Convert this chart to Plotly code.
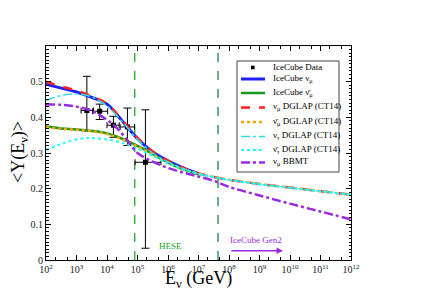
import math
import plotly.graph_objects as go

# ---------------- data ----------------
# log10(E/GeV) grids
logE_ic = [2.0, 2.5, 3.0, 3.5, 4.0, 4.5, 5.0, 5.5, 6.0, 6.5, 7.0]
logE_dg = [2.0, 2.5, 3.0, 3.5, 4.0, 4.5, 5.0, 5.5, 6.0, 6.5, 7.0, 7.5, 8.0, 8.5, 9.0, 10.0, 11.0, 12.0]

ic_numu = [0.493, 0.482, 0.471, 0.456, 0.437, 0.390, 0.340, 0.303, 0.278, 0.258, 0.242]
ic_numubar = [0.374, 0.369, 0.366, 0.362, 0.355, 0.340, 0.320, 0.297, 0.273, 0.254, 0.240]

dg_numu = [0.500, 0.487, 0.475, 0.459, 0.438, 0.392, 0.342, 0.304, 0.278, 0.258, 0.243,
           0.233, 0.225, 0.219, 0.213, 0.203, 0.193, 0.183]
dg_numubar = [0.372, 0.368, 0.365, 0.361, 0.353, 0.338, 0.318, 0.295, 0.272, 0.255, 0.242,
              0.233, 0.225, 0.219, 0.213, 0.203, 0.193, 0.183]
logE_nutau = [2.0, 2.4, 2.8, 3.2, 3.5, 4.0, 4.5, 5.0, 5.5, 6.0, 6.5, 7.0, 7.5, 8.0, 8.5, 9.0, 10.0, 11.0, 12.0]
dg_nutau = [0.447, 0.459, 0.465, 0.464, 0.457, 0.432, 0.388, 0.338, 0.300, 0.275, 0.256, 0.242,
            0.233, 0.225, 0.219, 0.213, 0.203, 0.193, 0.184]
dg_nutaubar = [0.309, 0.322, 0.334, 0.341, 0.342, 0.338, 0.328, 0.312, 0.292, 0.271, 0.254, 0.241,
               0.232, 0.224, 0.218, 0.212, 0.202, 0.192, 0.183]
logE_bbmt = [2.0, 2.5, 3.0, 3.5, 4.0, 4.3, 4.6, 5.0, 5.5, 6.0, 6.5, 7.0, 7.5, 8.0, 9.0, 10.0, 11.0, 12.0]
bbmt_numu = [0.436, 0.435, 0.430, 0.418, 0.393, 0.372, 0.343, 0.300, 0.276, 0.258, 0.245, 0.234,
             0.222, 0.205, 0.181, 0.158, 0.136, 0.114]

# IceCube data points
data_logE = [3.34, 3.76, 4.21, 4.67, 5.26]
data_logE_lo = [3.15, 3.53, 4.00, 4.43, 4.92]
data_logE_hi = [3.56, 4.02, 4.40, 4.90, 5.77]
data_y = [0.419, 0.417, 0.378, 0.373, 0.274]
data_y_hi = [0.515, 0.437, 0.403, 0.426, 0.421]
data_y_lo = [0.362, 0.394, 0.344, 0.321, 0.033]

hese_logE = 4.91
gen2_logE = 7.64

xtick_exp = list(range(2, 13))
ytick_vals = [0, 0.1, 0.2, 0.3, 0.4, 0.5]
ytick_text = ["0", "0.1", "0.2", "0.3", "0.4", "0.5"]

legend_labels = ["IceCube Data", "IceCube ν<sub>μ</sub>", "IceCube ν̄<sub>μ</sub>",
                 "ν<sub>μ</sub> DGLAP (CT14)", "ν̄<sub>μ</sub> DGLAP (CT14)",
                 "ν<sub>τ</sub> DGLAP (CT14)", "ν̄<sub>τ</sub> DGLAP (CT14)", "ν<sub>μ</sub> BBMT"]

# ---------------- figure ----------------
# page body has an 8px margin; figure sized to fit inside the 421x298 window
W, H = 405, 282
PL, PT, PR, PB = 46, 46, 351, 260          # plot edges in window pixels
OFF = 8
L, T = PL - OFF, PT - OFF
R, B = W - (PR - OFF), H - (PB - OFF)
PW, PH = PR - PL, PB - PT


def px2paper(px, py):
    return (px - PL) / PW, (PB - py) / PH


def E(lst):
    return [10 ** v for v in lst]


FONT = "Liberation Serif"
fig = go.Figure()

# vertical dashed lines
for lx, col in [(hese_logE, "#13a013"), (gen2_logE, "#0a7a3c")]:
    fig.add_trace(go.Scatter(x=[10 ** lx, 10 ** lx], y=[0, 0.6], mode="lines",
                             line=dict(color=col, width=1.2, dash="dash"),
                             showlegend=False, hoverinfo="skip"))

styles = {
    "ic_numu": dict(color="#1f1fff", width=3, dash="solid"),
    "ic_numubar": dict(color="#1a9a1a", width=2.5, dash="solid"),
    "dg_numu": dict(color="#ff2020", width=2.5, dash="dash"),
    "dg_numubar": dict(color="#ffa500", width=2.5, dash="dot"),
    "dg_nutau": dict(color="#30e0e0", width=1.5, dash="dashdot"),
    "dg_nutaubar": dict(color="#20ffff", width=2, dash="dot"),
    "bbmt": dict(color="#9a2be2", width=2.5, dash="dashdot"),
}

dx = [10 ** data_logE[i] for i in range(len(data_logE))]
fig.add_trace(go.Scatter(
    x=dx, y=data_y, mode="markers", name=legend_labels[0], showlegend=False,
    marker=dict(symbol="square", size=5, color="black"),
    error_x=dict(type="data", symmetric=False,
                 array=[10 ** data_logE_hi[i] - dx[i] for i in range(len(dx))],
                 arrayminus=[dx[i] - 10 ** data_logE_lo[i] for i in range(len(dx))],
                 color="black", thickness=1, width=3),
    error_y=dict(type="data", symmetric=False,
                 array=[data_y_hi[i] - data_y[i] for i in range(len(dx))],
                 arrayminus=[data_y[i] - data_y_lo[i] for i in range(len(dx))],
                 color="black", thickness=1, width=4),
))

series = [
    (logE_ic, ic_numu, "ic_numu", legend_labels[1]),
    (logE_ic, ic_numubar, "ic_numubar", legend_labels[2]),
    (logE_dg, dg_numu, "dg_numu", legend_labels[3]),
    (logE_dg, dg_numubar, "dg_numubar", legend_labels[4]),
    (logE_nutau, dg_nutau, "dg_nutau", legend_labels[5]),
    (logE_nutau, dg_nutaubar, "dg_nutaubar", legend_labels[6]),
    (logE_bbmt, bbmt_numu, "bbmt", legend_labels[7]),
]
for lx, yy, key, name in series:
    fig.add_trace(go.Scatter(x=E(lx), y=yy, mode="lines", name=name, showlegend=False,
                             line=dict(shape="spline", **styles[key])))

axis_common = dict(showline=True, linecolor="black", linewidth=1, mirror="allticks",
                   ticks="inside", tickcolor="black", ticklen=5, showgrid=False, zeroline=False,
                   automargin=False,
                   tickfont=dict(family=FONT, size=10, color="#222"))

fig.update_xaxes(type="log", range=[2, 12],
                 tickvals=[10 ** e for e in xtick_exp],
                 ticktext=["10<sup>%d</sup>" % e for e in xtick_exp],
                 minor=dict(ticks="inside", ticklen=3, tickcolor="black", showgrid=False),
                 **axis_common)
fig.update_yaxes(range=[0, 0.6], tickvals=ytick_vals, ticktext=ytick_text,
                 minor=dict(ticks="inside", ticklen=2.5, tickcolor="black", dtick=0.01, showgrid=False),
                 **axis_common)

# axis titles
xt = px2paper(198, 279)
fig.add_annotation(x=xt[0], y=xt[1], xref="paper", yref="paper", showarrow=False,
                   xanchor="center", yanchor="middle",
                   text="E<sub>ν</sub> (GeV)", font=dict(family=FONT, size=18, color="black"))
yt = px2paper(19, 152)
fig.add_annotation(x=yt[0], y=yt[1], xref="paper", yref="paper", showarrow=False, textangle=-90,
                   xanchor="center", yanchor="middle",
                   text="&lt;Y(E<sub>ν</sub>)&gt;", font=dict(family=FONT, size=18, color="black"))

fig.add_annotation(x=6.08, y=0.040, xref="x", yref="y", text="HESE", showarrow=False,
                   xanchor="center", yanchor="middle",
                   font=dict(family=FONT, size=9, color="#13a013"))
fig.add_annotation(x=8.88, y=0.056, xref="x", yref="y", text="IceCube Gen2", showarrow=False,
                   xanchor="center", yanchor="middle",
                   font=dict(family=FONT, size=9, color="#9a2be2"))
fig.add_annotation(x=9.77, y=0.026, ax=8.03, ay=0.026, xref="x", yref="y", axref="x", ayref="y",
                   text="", showarrow=True, arrowhead=2, arrowsize=1, arrowwidth=1.3,
                   arrowcolor="#9a2be2")

# ---- hand-built legend box ----
bx0, by0 = px2paper(237, 61)
bx1, by1 = px2paper(339, 172)
fig.add_shape(type="rect", xref="paper", yref="paper", x0=bx0, y0=by1, x1=bx1, y1=by0,
              line=dict(color="#444", width=1), fillcolor="white", layer="above")
row_y = [67.5, 79, 93, 107.5, 122, 136.5, 150, 162.5]
keys = [None, "ic_numu", "ic_numubar", "dg_numu", "dg_numubar", "dg_nutau", "dg_nutaubar", "bbmt"]
for i, (ry, key, lab) in enumerate(zip(row_y, keys, legend_labels)):
    if key is None:
        cx0, cy0 = px2paper(251, ry - 1.8)
        cx1, cy1 = px2paper(254.6, ry + 1.8)
        fig.add_shape(type="rect", xref="paper", yref="paper", x0=cx0, y0=cy1, x1=cx1, y1=cy0,
                      line=dict(color="black", width=0), fillcolor="black", layer="above")
    else:
        st = styles[key]
        lx0, ly = px2paper(241, ry)
        lx1, _ = px2paper(265, ry)
        fig.add_shape(type="line", xref="paper", yref="paper", x0=lx0, y0=ly, x1=lx1, y1=ly,
                      line=dict(color=st["color"], width=st["width"], dash=st["dash"]), layer="above")
    tx, ty = px2paper(271, ry - 1)
    fig.add_annotation(x=tx, y=ty, xref="paper", yref="paper", xanchor="left", yanchor="middle",
                       showarrow=False, text=lab, font=dict(family=FONT, size=9, color="black"))

fig.update_layout(
    width=W, height=H,
    margin=dict(l=L, r=R, t=T, b=B),
    paper_bgcolor="white", plot_bgcolor="white",
    font=dict(family=FONT, color="black"),
    showlegend=False,
)

fig.write_html("out.html")
